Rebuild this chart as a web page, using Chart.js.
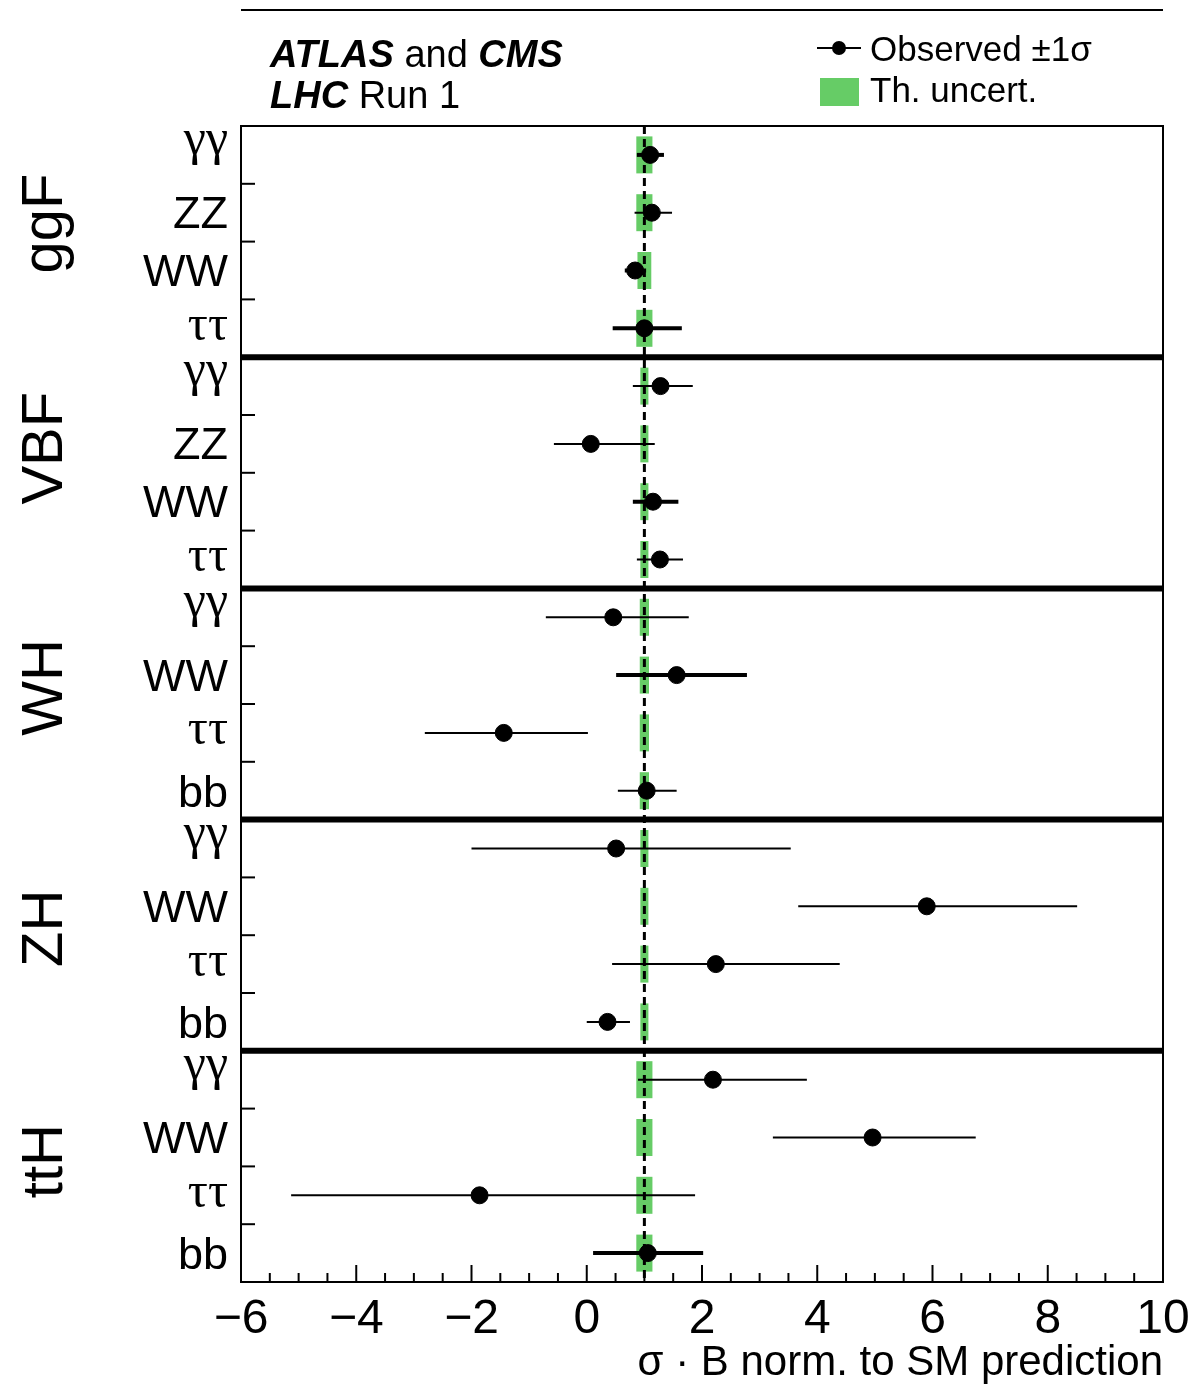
<!DOCTYPE html>
<html>
<head>
<meta charset="utf-8">
<script src="https://cdn.jsdelivr.net/npm/chart.js@4.4.1/dist/chart.umd.min.js"></script>
<style>
  html, body { margin: 0; padding: 0; background: #fff; }
</style>
</head>
<body>
<canvas id="chart" width="1191" height="1384"></canvas>
<script>
// Production modes, 4 decay channels each (top to bottom)
const groups = ['ggF', 'VBF', 'WH', 'ZH', 'ttH'];
const channels = [
    'γγ', 'ZZ', 'WW', 'ττ',
    'γγ', 'ZZ', 'WW', 'ττ',
    'γγ', 'WW', 'ττ', 'bb',
    'γγ', 'WW', 'ττ', 'bb',
    'γγ', 'WW', 'ττ', 'bb'
];

// Observed sigma*B normalised to SM, with -1sigma / +1sigma
const observed = [
    1.10, 1.13, 0.84, 1.00,
    1.28, 0.07, 1.15, 1.27,
    0.46, 1.56, -1.44, 1.04,
    0.51, 5.90, 2.24, 0.36,
    2.19, 4.96, -1.86, 1.06
];
const errMinus = [
    0.23, 0.30, 0.18, 0.55,
    0.48, 0.64, 0.35, 0.40,
    1.17, 1.05, 1.37, 0.50,
    2.51, 2.23, 1.80, 0.36,
    1.30, 1.73, 3.27, 0.95
];
const errPlus = [
    0.24, 0.35, 0.19, 0.65,
    0.56, 1.11, 0.44, 0.40,
    1.31, 1.22, 1.46, 0.52,
    3.03, 2.61, 2.15, 0.39,
    1.63, 1.79, 3.74, 0.96
];

// Theory uncertainty half-width around the SM value
const smValue = 1;
const theoryHalf = [
    0.14, 0.14, 0.12, 0.14,
    0.07, 0.07, 0.07, 0.07,
    0.08, 0.08, 0.08, 0.08,
    0.07, 0.07, 0.07, 0.07,
    0.14, 0.14, 0.14, 0.14
];

const xMin = -6, xMax = 10;
const xTicks = [-6, -4, -2, 0, 2, 4, 6, 8, 10];

// thicker error bars for some measurements
const thickBars = [
    true, false, true, true,
    false, false, true, false,
    false, true, false, false,
    false, false, false, false,
    false, false, false, true
];

const rowY = i => i + 0.5;
const nRows = channels.length;

const sans = '"Liberation Sans", Arial, sans-serif';
const serif = '"Liberation Serif", "DejaVu Serif", serif';

const errorBarSets = observed.map((v, i) => ({
    type: 'line',
    data: [{ x: v - errMinus[i], y: rowY(i) }, { x: v + errPlus[i], y: rowY(i) }],
    borderColor: '#000',
    borderWidth: thickBars[i] ? 4 : 2,
    pointRadius: 0,
    order: 1
}));

const decor = {
    id: 'decor',
    afterDatasetsDraw(chart) {
        const { ctx, chartArea: a, scales: { x, y } } = chart;
        const seg = (x1, y1, x2, y2) => {
            ctx.beginPath(); ctx.moveTo(x1, y1); ctx.lineTo(x2, y2); ctx.stroke();
        };
        ctx.save();
        ctx.strokeStyle = '#000';
        ctx.fillStyle = '#000';

        // frame
        ctx.lineWidth = 2;
        ctx.strokeRect(a.left, a.top, a.right - a.left, a.bottom - a.top);

        // separators between production modes
        ctx.lineWidth = 6;
        for (let g = 1; g < groups.length; g++) {
            const py = y.getPixelForValue(g * 4);
            seg(a.left - 1, py, a.right + 1, py);
        }

        // y ticks at row edges
        ctx.lineWidth = 2;
        for (let r = 1; r < nRows; r++) {
            if (r % 4 === 0) continue;
            const py = y.getPixelForValue(r);
            seg(a.left, py, a.left + 14, py);
        }

        // x ticks (major every 2, minor every 0.5)
        for (let v = xMin; v <= xMax + 1e-9; v += 0.5) {
            const px = x.getPixelForValue(v);
            const len = (Math.abs(v % 2) < 1e-9) ? 17 : 9;
            seg(px, a.bottom, px, a.bottom - len);
        }

        // x tick labels
        ctx.font = '48px ' + sans;
        ctx.textAlign = 'center';
        ctx.textBaseline = 'alphabetic';
        xTicks.forEach(t => {
            const lbl = String(t).replace('-', '\u2212');
            ctx.fillText(lbl, x.getPixelForValue(t), a.bottom + 51);
        });

        // x title
        ctx.font = '42px ' + sans;
        ctx.textAlign = 'right';
        ctx.fillText('σ · B norm. to SM prediction', a.right, a.bottom + 93);

        // channel labels, centred on their ink
        ctx.textAlign = 'right';
        channels.forEach((c, i) => {
            const greek = /[γτ]/.test(c);
            ctx.font = (greek ? '50px ' + serif : '45px ' + sans);
            const m = ctx.measureText(c);
            const cy = y.getPixelForValue(rowY(i)) + (c === 'γγ' ? -7 : 0);
            const base = cy + (m.actualBoundingBoxAscent - m.actualBoundingBoxDescent) / 2;
            ctx.fillText(c, a.left - 13, base);
        });

        // production mode labels, rotated
        ctx.font = '58px ' + sans;
        ctx.textAlign = 'left';
        groups.forEach((g, k) => {
            const py = y.getPixelForValue(k * 4 + 2.55);
            ctx.save();
            ctx.translate(62, py);
            ctx.rotate(-Math.PI / 2);
            ctx.fillText(g, 0, 0);
            ctx.restore();
        });

        // header line
        ctx.lineWidth = 2;
        seg(a.left, 10, a.right, 10);

        // experiment label
        const rich = (parts, px, py) => {
            parts.forEach(([txt, font]) => {
                ctx.font = font;
                ctx.fillText(txt, px, py);
                px += ctx.measureText(txt).width;
            });
        };
        ctx.textAlign = 'left';
        const bi = 'italic bold 38px ' + sans;
        const rg = '38px ' + sans;
        rich([['ATLAS', bi], [' and ', rg], ['CMS', bi]], 270, 67);
        rich([['LHC', bi], [' Run 1', rg]], 270, 108);

        // legend
        seg(817, 48, 861, 48);
        ctx.beginPath(); ctx.arc(839, 48, 7, 0, Math.PI * 2); ctx.fill();
        ctx.font = '35px ' + sans;
        ctx.fillText('Observed ±1σ', 870, 61);
        ctx.fillStyle = '#66cc66';
        ctx.fillRect(820, 78, 39, 28);
        ctx.fillStyle = '#000';
        ctx.fillText('Th. uncert.', 870, 102);

        ctx.restore();
    }
};

const ctx = document.getElementById('chart').getContext('2d');
const chart = new Chart(ctx, {
    type: 'scatter',
    data: {
        datasets: [
            {
                type: 'scatter',
                data: observed.map((v, i) => ({ x: v, y: rowY(i) })),
                backgroundColor: '#000',
                borderColor: '#000',
                pointRadius: 8.5,
                pointHoverRadius: 8.5,
                order: 0
            },
            ...errorBarSets,
            {
                type: 'line',
                data: [{ x: smValue, y: 0 }, { x: smValue, y: nRows }],
                borderColor: '#000',
                borderWidth: 3,
                borderDash: [8, 5],
                pointRadius: 0,
                order: 2
            },
            {
                type: 'bar',
                indexAxis: 'y',
                data: theoryHalf.map((u, i) => ({ x: [smValue - u, smValue + u], y: rowY(i) })),
                backgroundColor: '#66cc66',
                borderWidth: 0,
                barPercentage: 0.64,
                categoryPercentage: 1,
                order: 3
            }
        ]
    },
    options: {
        responsive: false,
        animation: false,
        layout: { padding: { left: 241, right: 28, top: 126, bottom: 102 } },
        scales: {
            x: { type: 'linear', min: xMin, max: xMax, offset: false, display: false },
            y: { type: 'linear', min: 0, max: nRows, reverse: true, offset: false, display: false }
        },
        plugins: {
            legend: { display: false },
            tooltip: { enabled: false }
        }
    },
    plugins: [decor]
});
</script>
</body>
</html>
